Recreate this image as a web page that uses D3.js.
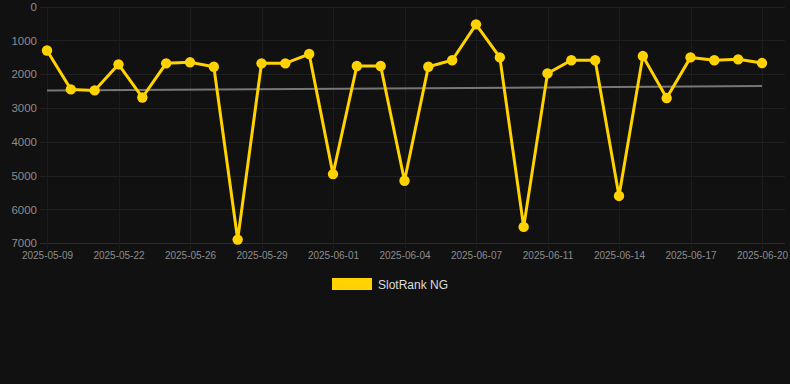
<!DOCTYPE html>
<meta charset="utf-8">
<style>
  body { margin: 0; background: #111111; }
  svg { font-family: "Liberation Sans", Arial, sans-serif; display: block; }
  .grid line { stroke: #1d1d1d; stroke-width: 1px; shape-rendering: crispEdges; }
  .axis text { fill: #8c8c8c; }
  .axis path, .axis line { display: none; }
</style>
<body>
<div id="chart"></div>
<script src="https://d3js.org/d3.v7.min.js"></script>
<script>
  // dates on the x axis (only every third one is labelled)
  var dates = [
    "2025-05-09", "2025-05-18", "2025-05-20", "2025-05-22", "2025-05-23", "2025-05-25",
    "2025-05-26", "2025-05-27", "2025-05-28", "2025-05-29", "2025-05-30", "2025-05-31",
    "2025-06-01", "2025-06-02", "2025-06-03", "2025-06-04", "2025-06-05", "2025-06-06",
    "2025-06-07", "2025-06-09", "2025-06-10", "2025-06-11", "2025-06-12", "2025-06-13",
    "2025-06-14", "2025-06-15", "2025-06-16", "2025-06-17", "2025-06-18", "2025-06-19",
    "2025-06-20"
  ];
  // rank values of SlotRank NG
  var ranks = [
    1300, 2450, 2480, 1710, 2690, 1680, 1650, 1780, 6890, 1680, 1680, 1405,
    4955, 1760, 1760, 5150, 1780, 1590, 527, 1505, 6515, 1977, 1590, 1590,
    5600, 1465, 2707, 1505, 1590, 1563, 1672
  ];
  // trend line start / end values
  var trend = [2485, 2352];
  var yTicks = [0, 1000, 2000, 3000, 4000, 5000, 6000, 7000];
  var seriesName = "SlotRank NG";

  var W = 790, H = 384;
  var m = { left: 40, right: 785, top: 6.5, bottom: 243.3 };
  var lineColor = "#ffd200";

  var svg = d3.select("#chart").append("svg")
      .attr("width", W)
      .attr("height", H);

  svg.append("rect").attr("width", W).attr("height", H).attr("fill", "#111111");

  var x = d3.scalePoint().domain(dates).range([47, 762]);
  var y = d3.scaleLinear().domain([0, 7000]).range([m.top, m.bottom]);

  // grid
  var grid = svg.append("g").attr("class", "grid");
  grid.selectAll(".h").data(yTicks).enter().append("line")
      .attr("x1", m.left).attr("x2", m.right)
      .attr("y1", function(d) { return Math.round(y(d)) + 0.5; })
      .attr("y2", function(d) { return Math.round(y(d)) + 0.5; })
      .style("stroke", function(d) { return d === 7000 ? "#2c2c2c" : "#1f1f1f"; });

  var labelled = dates.filter(function(d, i) { return i % 3 === 0; });
  grid.selectAll(".v").data(labelled).enter().append("line")
      .attr("x1", function(d) { return Math.round(x(d)) + 0.5; })
      .attr("x2", function(d) { return Math.round(x(d)) + 0.5; })
      .attr("y1", m.top).attr("y2", m.bottom + 6);

  // y axis
  svg.append("g")
      .attr("class", "axis")
      .attr("transform", "translate(" + (m.left - 3) + ",0)")
      .call(d3.axisLeft(y).tickValues(yTicks).tickSize(0).tickPadding(0).tickFormat(d3.format("d")))
      .selectAll("text").style("font-size", "11.5px");

  // x axis
  svg.append("g")
      .attr("class", "axis")
      .attr("transform", "translate(0," + (m.bottom + 9) + ")")
      .call(d3.axisBottom(x).tickValues(labelled).tickSize(0).tickPadding(0))
      .selectAll("text").style("font-size", "10px");

  // trend line
  svg.append("line")
      .attr("x1", x(dates[0])).attr("x2", x(dates[dates.length - 1]))
      .attr("y1", y(trend[0])).attr("y2", y(trend[1]))
      .attr("stroke", "#777777")
      .attr("stroke-width", 2);

  // series line
  var line = d3.line()
      .x(function(d, i) { return x(dates[i]); })
      .y(function(d) { return y(d); });

  svg.append("path")
      .datum(ranks)
      .attr("d", line)
      .attr("fill", "none")
      .attr("stroke", lineColor)
      .attr("stroke-width", 3)
      .attr("stroke-linejoin", "miter");

  svg.selectAll(".dot").data(ranks).enter().append("circle")
      .attr("cx", function(d, i) { return x(dates[i]); })
      .attr("cy", function(d) { return y(d); })
      .attr("r", 5.2)
      .attr("fill", lineColor);

  // legend
  var legend = svg.append("g").attr("transform", "translate(332,278)");
  legend.append("rect").attr("width", 40).attr("height", 12).attr("fill", lineColor);
  legend.append("text")
      .attr("x", 46).attr("y", 10.5)
      .attr("fill", "#dddddd")
      .style("font-size", "12px")
      .text(seriesName);
</script>
</body>
